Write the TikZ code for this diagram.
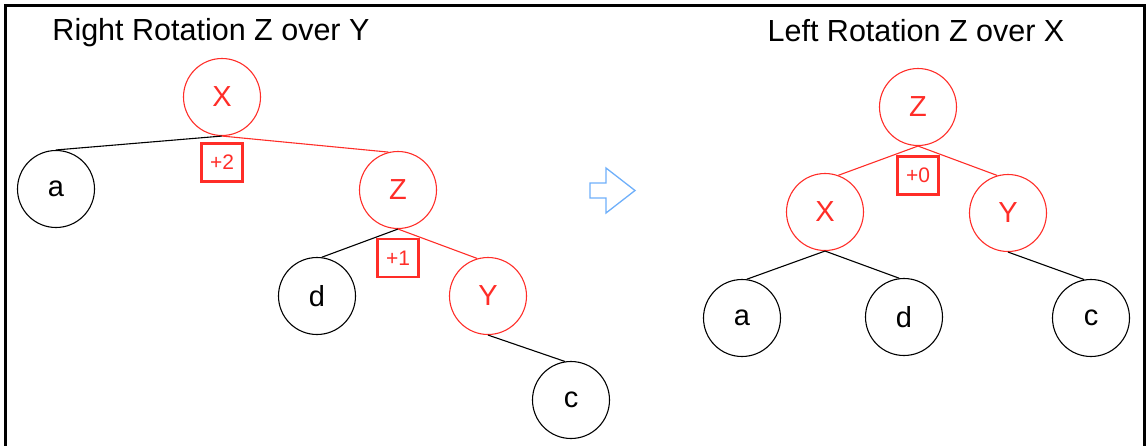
\documentclass[tikz,border=0pt]{standalone}
\usepackage{fontspec}
\setmainfont{Liberation Sans}
\definecolor{tred}{RGB}{255,45,40}
\definecolor{tblue}{RGB}{110,175,250}
\begin{document}
\begin{tikzpicture}[x=1pt,y=-1pt,
  vtx/.style={circle,draw,line width=1.1pt,minimum size=77pt,inner sep=0pt,font=\fontsize{29}{32}\selectfont},
  rv/.style={vtx,draw=tred,text=tred},
  bv/.style={vtx,draw=black,text=black},
  bal/.style={draw=tred,line width=2.6pt,text=tred,minimum width=41pt,minimum height=38pt,inner sep=0pt,font=\fontsize{21}{23}\selectfont},
  redge/.style={draw=tred,line width=1.1pt},
  bedge/.style={draw=black,line width=1.1pt},
  ttl/.style={font=\fontsize{30.5}{34}\selectfont,inner sep=0pt,anchor=base}]
\useasboundingbox (0,0) rectangle (1146,445);
% frame
\draw[line width=3pt] (5.5,450) -- (5.5,5.5) -- (1144,5.5) -- (1144,450);
% titles
\node[ttl] (t1) at (211,40) {Right Rotation Z over Y};
\node[ttl] (t2) at (916,41) {Left Rotation Z over X};
% left tree
\node[rv] (LX) at (222,97) {X};
\node[bv] (La) at (56,189) {a};
\node[rv] (LZ) at (398,190) {Z};
\node[bv] (Ld) at (317,296) {d};
\node[rv] (LY) at (488,296) {Y};
\node[bv] (Lc) at (571,400) {c};
\node[bal] (b2) at (222,162.5) {+2};
\node[bal] (b1) at (398,258) {+1};
\draw[bedge] (LX.south) -- (La.north);
\draw[redge] (LX.south) -- (LZ.104);
\draw[bedge] (LZ.south) -- (Ld.83);
\draw[redge] (LZ.south) -- (LY.106);
\draw[bedge] (LY.south) -- (Lc.99);
% arrow
\draw[tblue,line width=1.3pt,line join=miter] (590,183) -- (606,183) -- (606,168) -- (635,190.5) -- (606,213) -- (606,198) -- (590,198) -- cycle;
% right tree
\node[rv] (RZ) at (918,107) {Z};
\node[rv] (RX) at (825,212) {X};
\node[rv] (RY) at (1008,213) {Y};
\node[bv] (Ra) at (742,318) {a};
\node[bv] (Rd) at (904,317) {d};
\node[bv] (Rc) at (1091,318) {c};
\node[bal] (b0) at (918,175.5) {+0};
\draw[redge] (RZ.south) -- (RX.70);
\draw[redge] (RZ.south) -- (RY.106);
\draw[bedge] (RX.south) -- (Ra.83);
\draw[bedge] (RX.south) -- (Rd.97);
\draw[bedge] (RY.south) -- (Rc.100);
\end{tikzpicture}
\end{document}
